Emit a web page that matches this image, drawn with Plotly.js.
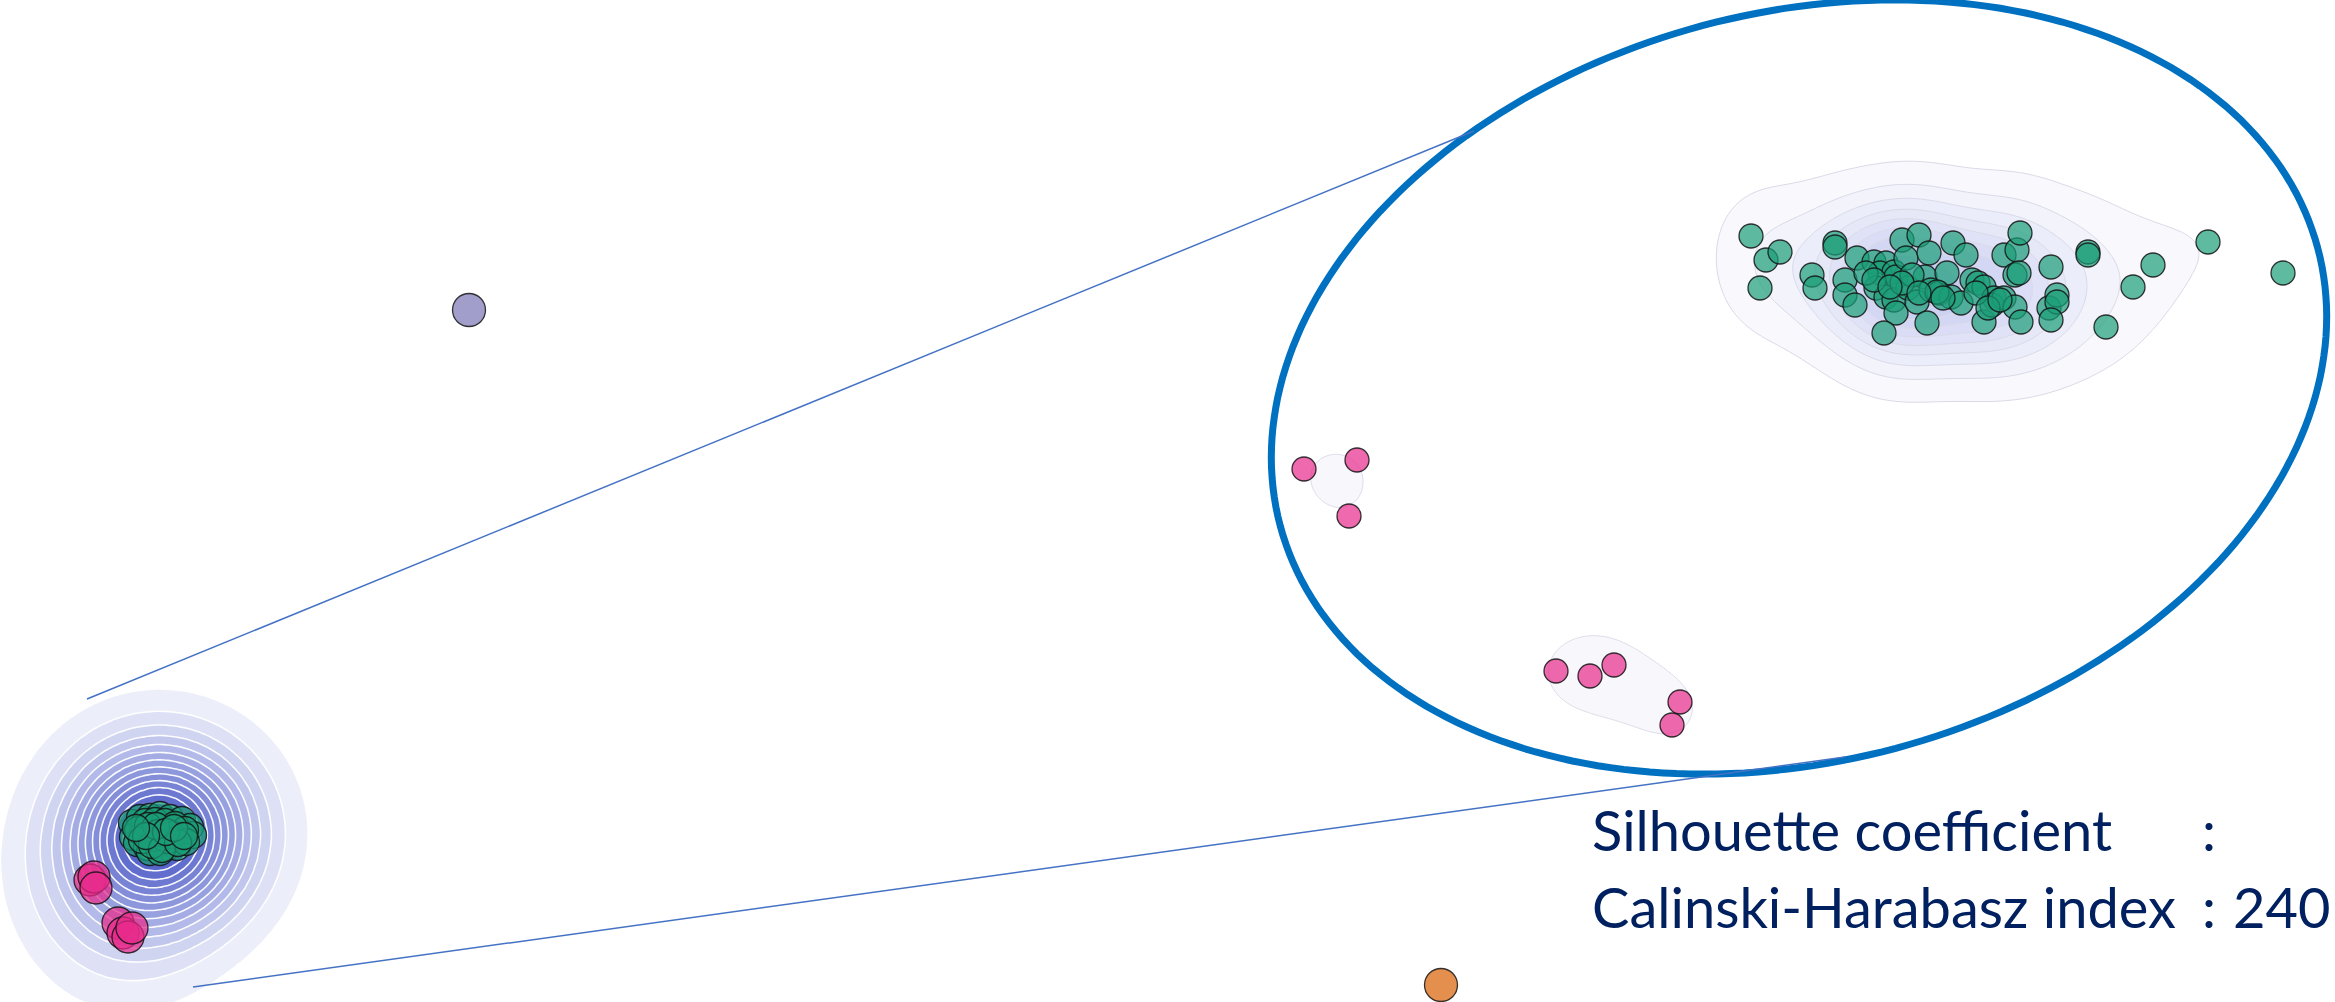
<!DOCTYPE html>
<html>
<head>
<meta charset="utf-8">
<script src="https://cdn.plot.ly/plotly-3.0.1.min.js"></script>
<style>
html,body{margin:0;padding:0;background:#fff;overflow:hidden}
#chart{width:2335px;height:1002px}
</style>
</head>
<body>
<div id="chart"></div>
<script>
// ---------- DATA (canvas pixel units) ----------
// Overview embedding (left blob) - the green cluster is a heavy overlap of many points
const overviewGreenX = [132,140,150,160,170,182,190,193,133,143,150,160,170,180,137,147,157,167,177,150,160,168,153,163,
                        145,155,165,175,185,138,148,158,172,186,142,152,162,178,156,166,146,174,184,136];
const overviewGreenY = [823,818,817,815,818,820,827,835,837,833,830,827,830,838,843,847,842,847,847,852,852,840,838,837,
                        822,821,822,825,830,830,826,833,835,842,840,845,849,843,826,832,836,828,836,828];
const overviewPinkX = [90,94,96,118,123,128,132];
const overviewPinkY = [880,877,888,923,933,937,928];
const outlierPurpleX = [469];
const outlierPurpleY = [310];
const outlierOrangeX = [1441];
const outlierOrangeY = [985];

// Zoomed view (inside the ellipse)
const zoomGreenX = [1751,1766,1780,1760,1835,1835,1812,1815,1857,1845,1845,1855,1874,1886,1880,1894,1896,1902,1919,1906,1929,1876,1886,1894,1896,1884,1908,1917,1925,1927,1931,1939,1947,1953,1966,1951,1961,1972,1978,1984,1984,1994,1992,2004,2017,2020,2015,2019,2004,2015,2021,2051,2049,2057,2057,2051,2088,2088,2133,2153,2106,2208,2283,1866,1912,1937,1943,1976,1988,2000,1902,1919,1874,1890];
const zoomGreenY = [236,260,252,288,243,247,275,288,258,280,295,305,262,263,273,272,277,240,235,258,253,288,297,300,313,333,288,302,277,323,290,293,273,243,255,297,303,280,283,287,322,298,305,255,250,233,275,273,298,307,322,267,308,295,302,320,252,255,287,265,327,242,273,273,275,292,298,293,308,300,283,293,280,287];
const zoomPinkX = [1304,1357,1349,1556,1590,1614,1680,1672];
const zoomPinkY = [469,460,516,671,676,665,702,725];

// Text
const metricLabels = ["Silhouette coefficient", "Calinski-Harabasz index"];
const metricValues = ["", "240"];

// ---------- helpers ----------
function kdeGrid(xs, ys, hx, hy, x0, x1, y0, y1, step) {
  const gx = [], gy = [];
  for (let v = x0; v <= x1; v += step) gx.push(v);
  for (let v = y0; v <= y1; v += step) gy.push(v);
  const z = gy.map(yv => gx.map(xv => {
    let s = 0;
    for (let k = 0; k < xs.length; k++) {
      const dx = (xv - xs[k]) / hx, dy = (yv - ys[k]) / hy;
      s += Math.exp(-0.5 * (dx * dx + dy * dy));
    }
    return s;
  }));
  return {gx, gy, z};
}
// mass-quantile transform (seaborn-style iso-proportion levels)
function toQuantile(z) {
  const flat = [];
  z.forEach((row, j) => row.forEach((v, i) => flat.push([v, j, i])));
  flat.sort((a, b) => a[0] - b[0]);
  const total = flat.reduce((s, a) => s + a[0], 0);
  const q = z.map(r => r.map(() => 0));
  let cum = 0;
  for (const [v, j, i] of flat) { cum += v; q[j][i] = cum / total; }
  return q;
}
function zMax(z) { return Math.max(...z.map(r => Math.max(...r))); }

// ---------- densities ----------
const blob = kdeGrid(overviewGreenX.concat(overviewPinkX), overviewGreenY.concat(overviewPinkY),
                     58, 58, -160, 470, 600, 1140, 4);
const blobQ = toQuantile(blob.z);
const nBlob = 14, blobStart = 0.05, blobSize = 0.95 / 14;

const zg = kdeGrid(zoomGreenX, zoomGreenY, 36, 46, 1580, 2440, 60, 500, 4);
const zgTop = zMax(zg.z);
const nZG = 9, zgStart = 1.6, zgSize = (zgTop - 1.6) / 9.3;

const zp = kdeGrid(zoomPinkX, zoomPinkY, 45, 45, 1220, 1780, 380, 800, 3);

const traces = [
  {type: 'contour', x: blob.gx, y: blob.gy, z: blobQ, autocontour: false,
   contours: {start: blobStart, end: blobStart + (nBlob - 1) * blobSize, size: blobSize, coloring: 'fill', showlines: true},
   line: {color: 'rgba(255,255,255,0.95)', width: 1.6, smoothing: 1},
   colorscale: [[0, 'rgba(255,255,255,0)'], [1 / nBlob, 'rgb(236,238,249)'], [0.45, 'rgb(160,168,226)'], [1, 'rgb(76,90,198)']],
   showscale: false, hoverinfo: 'skip'},
  {type: 'contour', x: zg.gx, y: zg.gy, z: zg.z, autocontour: false,
   contours: {start: zgStart, end: zgStart + (nZG - 1) * zgSize, size: zgSize, coloring: 'fill', showlines: true},
   line: {color: 'rgb(218,219,232)', width: 1, smoothing: 1},
   colorscale: [[0, 'rgba(255,255,255,0)'], [1 / nZG, 'rgb(248,248,253)'], [1, 'rgb(200,204,240)']],
   showscale: false, hoverinfo: 'skip'},
  {type: 'contour', x: zp.gx, y: zp.gy, z: zp.z, autocontour: false,
   contours: {start: 2.0, end: 2.0, size: 1, coloring: 'fill', showlines: true},
   line: {color: 'rgb(222,222,234)', width: 1, smoothing: 1},
   colorscale: [[0, 'rgba(255,255,255,0)'], [1, 'rgb(247,247,252)']],
   showscale: false, hoverinfo: 'skip'}
];

function pts(x, y, color, size) {
  return {type: 'scatter', mode: 'markers', x, y, hoverinfo: 'skip',
          marker: {size, color, line: {color: 'rgba(20,20,20,0.85)', width: 1.3}}};
}
traces.push(pts(overviewGreenX, overviewGreenY, 'rgba(27,158,119,0.72)', 27));
traces.push(pts(overviewPinkX, overviewPinkY, 'rgba(231,41,138,0.72)', 32));
traces.push(pts(outlierPurpleX, outlierPurpleY, 'rgba(117,112,179,0.68)', 33));
traces.push(pts(outlierOrangeX, outlierOrangeY, 'rgba(217,95,2,0.7)', 33));
traces.push(pts(zoomGreenX, zoomGreenY, 'rgba(27,158,119,0.7)', 24));
traces.push(pts(zoomPinkX, zoomPinkY, 'rgba(231,41,138,0.7)', 24));

// ---------- decorations ----------
function ellipsePath(cx, cy, a, b, deg) {
  const t = deg * Math.PI / 180, c = Math.cos(t), s = Math.sin(t);
  let p = '';
  for (let k = 0; k <= 240; k++) {
    const u = 2 * Math.PI * k / 240;
    const x = cx + a * c * Math.cos(u) - b * s * Math.sin(u);
    const y = cy + a * s * Math.cos(u) + b * c * Math.sin(u);
    p += (k === 0 ? 'M' : 'L') + x.toFixed(1) + ',' + y.toFixed(1);
  }
  return p + 'Z';
}
const shapes = [
  {type: 'path', xref: 'x', yref: 'y', path: ellipsePath(1799, 387, 537, 374, -15),
   line: {color: '#0070c0', width: 7}, fillcolor: 'rgba(0,0,0,0)', layer: 'above'},
  {type: 'line', xref: 'x', yref: 'y', x0: 87, y0: 699, x1: 1474, y1: 131,
   line: {color: '#4472c4', width: 1.5}, layer: 'above'},
  {type: 'line', xref: 'x', yref: 'y', x0: 193, y0: 987, x1: 1845, y1: 757,
   line: {color: '#4472c4', width: 1.5}, layer: 'above'}
];

const tf = {family: 'Lato, "Open Sans", sans-serif', size: 56, color: '#002060'};
function ann(text, x, y) {
  return {text, x, y, xref: 'x', yref: 'y', xanchor: 'left', yanchor: 'middle', showarrow: false, font: tf, borderpad: 0};
}
const annotations = [
  ann(metricLabels[0], 1591, 829),
  ann(':', 2201, 829),
  ann(metricLabels[1], 1591, 906),
  ann(':', 2201, 906),
  ann(metricValues[1], 2232, 906)
];

const layout = {
  width: 2335, height: 1002,
  margin: {l: 0, r: 0, t: 0, b: 0, pad: 0},
  paper_bgcolor: '#ffffff', plot_bgcolor: '#ffffff',
  showlegend: false,
  xaxis: {range: [0, 2335], visible: false, fixedrange: true},
  yaxis: {range: [1002, 0], visible: false, fixedrange: true},
  shapes, annotations
};

Plotly.newPlot('chart', traces, layout, {displayModeBar: false, staticPlot: true});
</script>
</body>
</html>
